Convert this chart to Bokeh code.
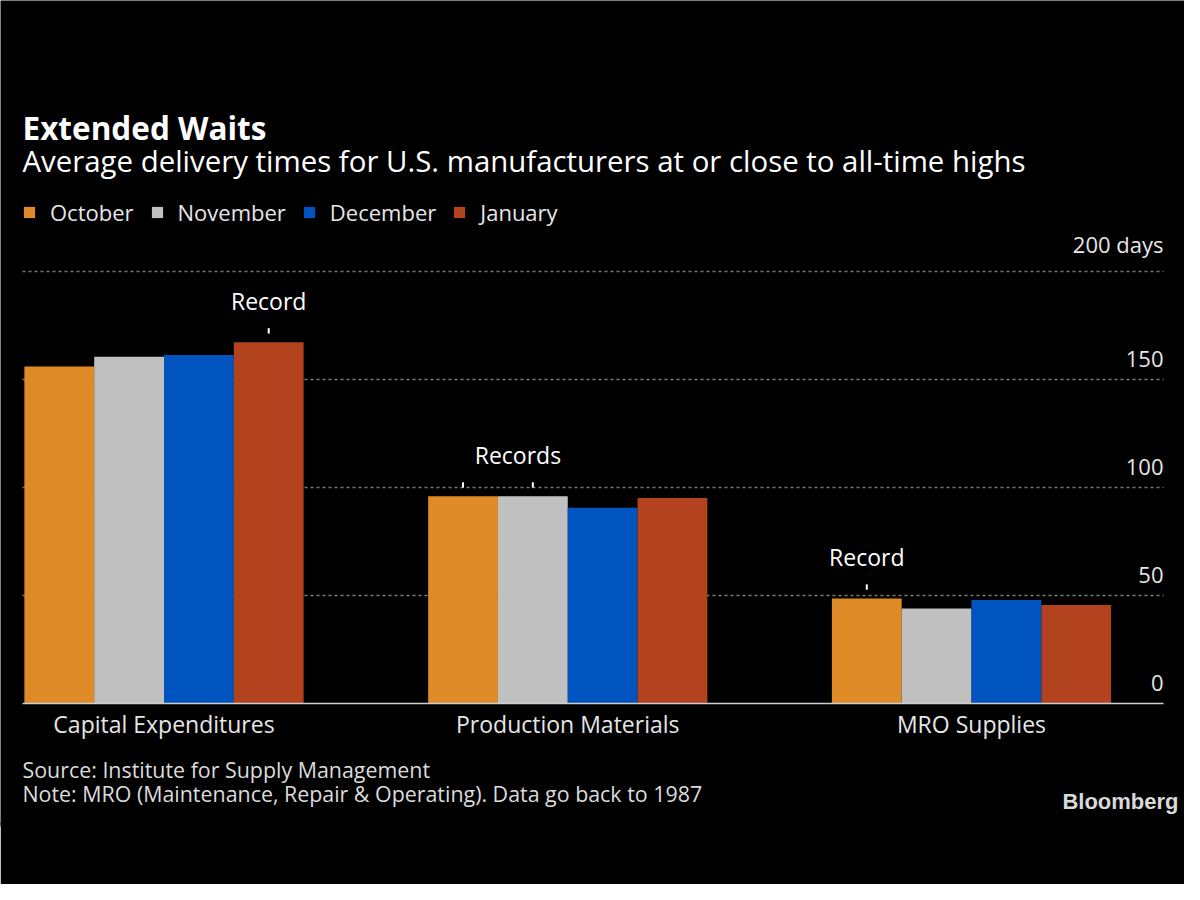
from bokeh.plotting import figure
from bokeh.models import (ColumnDataSource, Range1d, Label, Legend, LegendItem,
                          FixedTicker, Grid, LinearAxis)
from bokeh.transform import dodge
from bokeh.core.properties import value
from bokeh.embed import file_html
from bokeh.resources import INLINE

# ---------------- data ----------------
categories = ["Capital Expenditures", "Production Materials", "MRO Supplies"]
months = ["October", "November", "December", "January"]
october = [156.1, 96.0, 48.7]
november = [160.7, 96.0, 44.0]
december = [161.5, 90.7, 47.9]
january = [167.4, 95.2, 45.6]
colors = ["#DF8B27", "#C0C0C0", "#0054BF", "#B3421F"]
y_ticks = [0, 50, 100, 150, 200]
y_tick_labels = ["0", "50", "100", "150", "200 days"]
record_cats = [0, 1, 2]
record_months = [[3], [0, 1], [0]]
record_texts = ["Record", "Records", "Record"]

title = "Extended Waits"
subtitle = "Average delivery times for U.S. manufacturers at or close to all-time highs"
source_txt = "Source: Institute for Supply Management"
note_txt = "Note: MRO (Maintenance, Repair & Operating). Data go back to 1987"
logo_txt = "Bloomberg"

FONT = "Open Sans"
BG = "#000000"

# ---------------- layout constants (pixels) ----------------
W, H = 1184, 884
BOTTOM_BORDER = 60
FB = H - BOTTOM_BORDER          # frame bottom (frame starts at top-left of canvas)
X0, PXX = 163.5, 403.75          # pixel of first group centre, pixels per group
Y0, PXY = 703.0, 2.1585          # pixel of value 0, pixels per day
PLOT_L, PLOT_R = 22.0, 1163.0    # horizontal extent of gridlines / baseline

def dx(px):
    return (px - X0) / PXX

def dy(py):
    return (Y0 - py) / PXY

p = figure(width=W, height=H, output_backend="svg", toolbar_location=None,
           x_range=Range1d(dx(0), dx(W)), y_range=Range1d(dy(FB), dy(0)),
           y_axis_location=None,
           min_border_left=0, min_border_right=0,
           min_border_top=0, min_border_bottom=BOTTOM_BORDER,
           background_fill_color=BG, border_fill_color=BG,
           outline_line_color=None)
# hide the default grids
for g in p.renderers + p.center:
    if isinstance(g, Grid):
        g.visible = False
p.grid.visible = False

grid = Grid(dimension=1, ticker=FixedTicker(ticks=[t for t in y_ticks if t > 0]),
            grid_line_color="#7a7a7a", grid_line_dash="3 3", grid_line_width=1.5)
try:
    grid.cross_bounds = (dx(PLOT_L), dx(PLOT_R))
except Exception:
    pass
p.add_layout(grid)

values = [october, november, december, january]
bw = 0.1729
src = ColumnDataSource(dict(x=list(range(len(categories))),
                            october=october, november=november,
                            december=december, january=january))
renderers = []
for i, m in enumerate(months):
    off = (i - 1.5) * bw
    r = p.vbar(x=dodge("x", off, range=p.x_range), top=m.lower(), width=bw,
               fill_color=colors[i], line_color=None, source=src)
    renderers.append(r)

# x axis drawn at value 0
ax = p.xaxis[0]
ax.fixed_location = 0
ax.bounds = (dx(PLOT_L), dx(PLOT_R))
ax.ticker = FixedTicker(ticks=list(range(len(categories))))
ax.major_label_overrides = {i: c for i, c in enumerate(categories)}
ax.major_tick_line_color = None
ax.minor_tick_line_color = None
ax.axis_line_color = "#cfcfcf"
ax.axis_line_width = 1.5
ax.major_label_text_font = FONT
ax.major_label_text_font_size = "23px"
ax.major_label_text_color = "#e6e6e6"
ax.major_label_standoff = -2

# a plain black axis line on the frame edge (hides the frame/border seam)
edge = LinearAxis(ticker=FixedTicker(ticks=[]), axis_line_color=BG, axis_line_width=4,
                  major_tick_line_color=None, minor_tick_line_color=None,
                  major_label_text_font_size="0px")
p.below = [edge] + list(p.below)

# y tick labels (inside the plot, right aligned above gridlines)
p.text(x=[dx(PLOT_R)] * len(y_ticks), y=y_ticks, text=y_tick_labels,
       text_align="right", text_baseline="bottom", y_offset=-13,
       text_font=value(FONT), text_font_size="22px", text_color="#e6e6e6")

# record annotations
rx, ry, rt, xo = [], [], [], []
sx0, sx1, sy0, sy1 = [], [], [], []
for c, ms, t in zip(record_cats, record_months, record_texts):
    centers = [c + (mi - 1.5) * bw for mi in ms]
    top = max(values[mi][c] for mi in ms)
    rx.append(sum(centers) / len(centers))
    ry.append(top)
    rt.append(t)
    xo.append(20 if len(ms) > 1 else 0)
    for mi in ms:
        xc = c + (mi - 1.5) * bw
        sx0.append(xc); sx1.append(xc)
        sy0.append(values[mi][c] + 4.0); sy1.append(values[mi][c] + 6.5)
p.text(x=rx, y=ry, text=rt, x_offset=xo, y_offset=-41, text_align="center",
       text_baseline="middle", text_font=value(FONT),
       text_font_size="23px", text_color="#ffffff")
p.segment(x0=sx0, y0=sy0, x1=sx1, y1=sy1, line_color="#ffffff", line_width=2)

# legend (location = bottom-left offset from frame bottom-left)
legend = Legend(items=[LegendItem(label=m, renderers=[r]) for m, r in zip(months, renderers)],
                orientation="horizontal", location=(22, FB - 227),
                padding=0, margin=0, spacing=16, label_standoff=14,
                glyph_width=14, glyph_height=14,
                background_fill_alpha=0, border_line_color=None,
                label_text_font=FONT, label_text_font_size="22px",
                label_text_color="#e6e6e6")
p.add_layout(legend, "center")

# titles and footer (placed in data units derived from page pixels)
def lab(text, x_px, mid_px, size, color="#ffffff", style="normal", align="left", font=FONT):
    p.add_layout(Label(x=dx(x_px), y=dy(mid_px), text=text, text_font=font,
                       text_font_size=size, text_font_style=style, text_color=color,
                       text_align=align, text_baseline="middle"))

lab(title, 22, 127, "31.5px", style="bold")
lab(subtitle, 22, 160, "29.4px")
lab(source_txt, 22, 769, "21.4px", color="#dcdcdc")
lab(note_txt, 22, 793, "21.4px", color="#dcdcdc")
lab(logo_txt, 1178, 801, "22px", color="#d9d9d9", style="bold", align="right",
    font="Liberation Sans")

open("out.html", "w").write(file_html(p, INLINE))
